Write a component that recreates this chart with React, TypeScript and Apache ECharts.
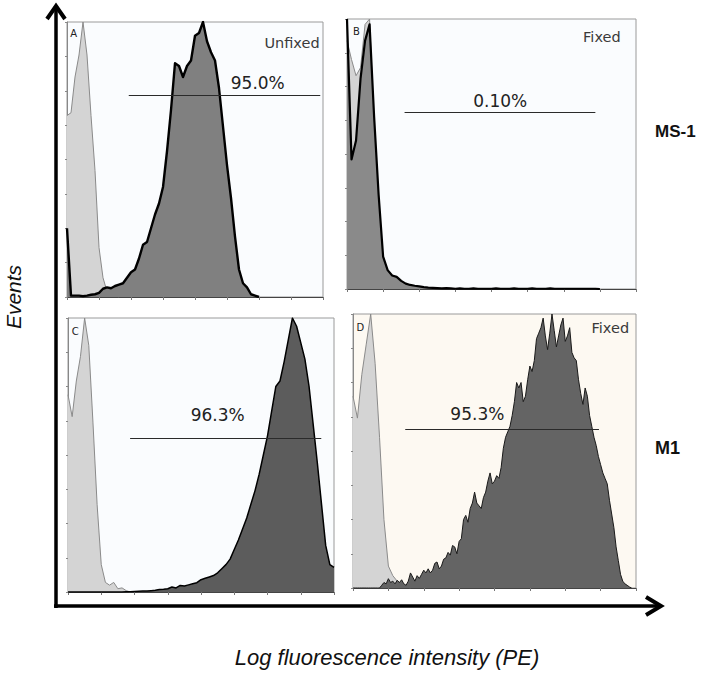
import React, { useEffect, useRef } from "react";
import * as echarts from "echarts";

// ---- data (channel histograms, % of panel max) ----
const CHANNEL_MAX = 1024;
const BIN = 16; // channels per value
const FINE_BIN = 8;

const lightA = [66, 67, 80, 88, 100, 88, 66, 46, 18, 7, 2, 1, 0.5, 0];
const darkA = [25, 0.5, 0.5, 0.5, 0.3, 0.5, 0.8, 1, 1.5, 3, 3.5, 3.2, 4, 4.5, 5, 7, 9, 10, 14, 19, 20, 25, 30, 34, 40, 53, 68, 85, 84, 80, 84, 86, 95, 96, 100, 93, 89, 86, 76, 62, 48, 36, 22, 10, 5, 3.5, 1, 0.5, 0];

const lightB = [92, 85, 79, 82, 98, 100, 60, 30, 10, 4, 2, 1, 0];
const darkB = [100, 48, 55, 78, 92, 98, 64, 35, 12, 7, 5, 4.5, 3, 2, 1.5, 1.2, 1, 0.7, 0.5, 0.4, 0.3, 0.2, 0.3, 0.2, 0.1, 0.2, 0.1, 0.1, 0.2, 0.1, 0.1, 0.1, 0.1, 0.2, 0.1, 0.1, 0.1, 0.2, 0.1, 0.1, 0.1, 0.2, 0.1, 0.1, 0.1, 0.2, 0.1, 0.1, 0.1, 0.1, 0.1, 0.1, 0.1, 0.1, 0.1, 0.1, 0];

const lightC = [72, 64, 77, 86, 100, 90, 62, 32, 10, 3.5, 2.5, 3.5, 1.2, 1.5, 0.5, 0];
const darkC = [0, 0, 0, 0, 0, 0, 0, 0, 0, 0, 0, 0, 0, 0, 0.1, 0.1, 0.2, 0.3, 0.4, 0.4, 0.5, 0.6, 0.9, 1.0, 1.2, 1.8, 1.5, 2.4, 2.2, 2.6, 3, 3.4, 4.5, 5, 5.5, 6, 7, 8.5, 10, 12, 15.5, 19, 23, 27, 32, 37, 43, 50, 57, 66, 75, 77, 84, 92, 100, 97, 91, 85, 75, 61, 47, 32, 17, 10, 9];

const lightD = [70, 62, 78, 89, 100, 82, 55, 25, 8, 4.5, 2.5, 1.5, 0.5, 0];
const darkD = [0, 0, 0, 0, 0, 0, 0, 0, 0, 0, 0, 0, 0, 1, 2, 1.5, 3.4, 2, 2.5, 1.5, 2.8, 2, 3, 1.5, 1, 2.5, 5.5, 4, 2.5, 4.5, 3.5, 5, 6.5, 5.5, 7, 5.5, 6.5, 9, 9.5, 7, 8, 10.5, 11, 13, 12, 15.5, 15, 12.5, 17, 18, 25, 26.5, 24, 29, 31, 35, 31, 30, 29, 33, 35, 39, 42, 38, 39, 41, 40, 44, 51, 55, 57, 59, 63, 68, 75, 73, 75, 68, 70, 76, 81, 79, 83, 91, 93, 95, 98.5, 92, 87, 93, 100, 94, 88, 92, 96, 98.5, 90, 92, 95, 86, 84, 83, 76, 71, 67, 73, 70, 63, 59, 55, 52, 48, 45, 42, 40, 38, 32, 27, 22, 15, 10, 5, 2.5, 1.5, 1, 0.4, 0];

// gates: [from channel, to channel, level %]
const gateA = [247, 1013, 73.3];
const gateB = [204, 880, 65.4];
const gateC = [239, 975, 56.2];
const gateD = [189, 890, 58];
const gateLabels = ["95.0%", "0.10%", "96.3%", "95.3%"];
const conditionLabels = ["Unfixed", "Fixed", "", "Fixed"];
const panelLetters = ["A", "B", "C", "D"];
const rowLabels = ["MS-1", "M1"];
const xTitle = "Log fluorescence intensity (PE)";
const yTitle = "Events";

const toPairs = (vals: number[], bin: number) => vals.map((v, i) => [i * bin, v]);

const panels = [
  { grid: { left: 67, top: 22, width: 256, height: 275 }, bg: "#fafcfe", light: lightA, lightBin: BIN, dark: darkA, darkBin: BIN, darkFill: "#808080", darkLine: "#000", darkWidth: 2.4, gate: gateA, labelAt: [763, 77.8], condAt: [900, 92.3], letterAt: [27, 96] },
  { grid: { left: 347, top: 19, width: 289, height: 270 }, bg: "#fafcfe", light: lightB, lightBin: BIN, dark: darkB, darkBin: BIN, darkFill: "#8a8a8a", darkLine: "#000", darkWidth: 2.2, gate: gateB, labelAt: [543, 69.5], condAt: [903, 93.2], letterAt: [33, 95.5] },
  { grid: { left: 68, top: 318, width: 266, height: 274 }, bg: "#fafcfe", light: lightC, lightBin: BIN, dark: darkC, darkBin: BIN, darkFill: "#5c5c5c", darkLine: "#000", darkWidth: 1.5, gate: gateC, labelAt: [576, 64.6], condAt: [900, 93], letterAt: [28, 95] },
  { grid: { left: 353, top: 314, width: 283, height: 274 }, bg: "#fdf9f2", light: lightD, lightBin: BIN, dark: darkD, darkBin: FINE_BIN, darkFill: "#646464", darkLine: "#1a1a1a", darkWidth: 1, gate: gateD, labelAt: [450, 63.5], condAt: [931, 94.9], letterAt: [27, 95] },
];

export default function App() {
  const ref = useRef<HTMLDivElement>(null);
  useEffect(() => {
    if (!ref.current) return;
    const chart = echarts.init(ref.current, null, { renderer: "svg" });
    const grids: any[] = [];
    const xAxes: any[] = [];
    const yAxes: any[] = [];
    const series: any[] = [];
    panels.forEach((p, i) => {
      grids.push({ ...p.grid, show: true, backgroundColor: p.bg, borderColor: "#9a9a9a", borderWidth: 1 });
      xAxes.push({
        type: "value", gridIndex: i, min: 0, max: CHANNEL_MAX, interval: 128,
        axisLabel: { show: false }, splitLine: { show: false },
        axisLine: { lineStyle: { color: "#444", width: 1 } },
        axisTick: { show: true, length: 3, lineStyle: { color: "#777" } },
      });
      yAxes.push({
        type: "value", gridIndex: i, min: 0, max: 100, interval: 12.5,
        axisLabel: { show: false }, splitLine: { show: false },
        axisLine: { show: true, lineStyle: { color: "#888", width: 1 } },
        axisTick: { show: true, length: 2, lineStyle: { color: "#888" } },
      });
      series.push({
        type: "line", xAxisIndex: i, yAxisIndex: i, data: toPairs(p.light, p.lightBin),
        showSymbol: false, symbol: "none", silent: true, z: 2,
        lineStyle: { color: "#8a8a8a", width: 1 }, areaStyle: { color: "#d4d4d4", opacity: 1 },
      });
      series.push({
        type: "line", xAxisIndex: i, yAxisIndex: i, data: toPairs(p.dark, p.darkBin),
        showSymbol: false, symbol: "none", silent: true, z: 3,
        lineStyle: { color: p.darkLine, width: p.darkWidth, join: "round" },
        areaStyle: { color: p.darkFill, opacity: 1 },
        markLine: {
          silent: true, symbol: ["none", "none"], label: { show: false },
          lineStyle: { color: "#2a2a2a", width: 1.2, type: "solid" },
          data: [[{ coord: [p.gate[0], p.gate[2]] }, { coord: [p.gate[1], p.gate[2]] }]],
        },
        markPoint: {
          silent: true, symbol: "circle", symbolSize: 1, itemStyle: { color: "rgba(0,0,0,0)" },
          label: { show: true, position: "inside", formatter: "{b}", fontFamily: "DejaVu Sans" },
          data: [
            { name: gateLabels[i], coord: p.labelAt, label: { fontSize: 17, color: "#222" } },
            ...(conditionLabels[i] ? [{ name: conditionLabels[i], coord: p.condAt, label: { fontSize: 14.5, color: "#3a3a3a" } }] : []),
            { name: panelLetters[i], coord: p.letterAt, label: { fontSize: 10, color: "#222" } },
          ],
        },
      });
    });

    chart.setOption({
      animation: false,
      backgroundColor: "#ffffff",
      grid: grids,
      xAxis: xAxes,
      yAxis: yAxes,
      series,
      graphic: [
        { type: "polyline", shape: { points: [[56, 608], [56, 7]] }, style: { stroke: "#000", lineWidth: 3.5, fill: null }, z: 10 },
        { type: "polyline", shape: { points: [[47, 19], [56, 6], [65, 19]] }, style: { stroke: "#000", lineWidth: 4, fill: null, lineJoin: "miter" }, z: 10 },
        { type: "polyline", shape: { points: [[54, 606], [660, 606]] }, style: { stroke: "#000", lineWidth: 3.5, fill: null }, z: 10 },
        { type: "polyline", shape: { points: [[646, 597], [661, 606], [646, 615]] }, style: { stroke: "#000", lineWidth: 4, fill: null, lineJoin: "miter" }, z: 10 },
        { type: "text", x: 13, y: 297, rotation: Math.PI / 2, style: { text: yTitle, font: "italic 21px 'Liberation Sans', Arial, sans-serif", fill: "#111", textAlign: "center", textVerticalAlign: "middle" }, z: 10 },
        { type: "text", x: 387, y: 657, style: { text: xTitle, font: "italic 22px 'Liberation Sans', Arial, sans-serif", fill: "#111", textAlign: "center", textVerticalAlign: "middle" }, z: 10 },
        { type: "text", x: 655, y: 131, style: { text: rowLabels[0], font: "bold 17px 'Liberation Sans', Arial, sans-serif", fill: "#111", textAlign: "left", textVerticalAlign: "middle" }, z: 10 },
        { type: "text", x: 655, y: 448, style: { text: rowLabels[1], font: "bold 18px 'Liberation Sans', Arial, sans-serif", fill: "#111", textAlign: "left", textVerticalAlign: "middle" }, z: 10 },
      ],
    });
    return () => chart.dispose();
  }, []);
  return <div ref={ref} style={{ position: "fixed", left: 0, top: 0, width: 708, height: 673 }} />;
}
